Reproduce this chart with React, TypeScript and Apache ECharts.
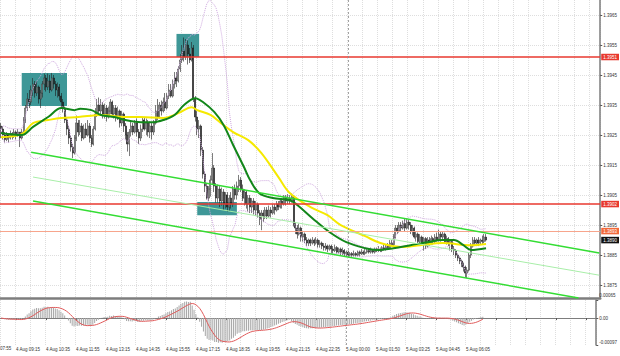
import React, { useEffect, useRef } from 'react';
import * as echarts from 'echarts';

const BASE = 1.38;
const PIP = 0.0001;
const SLOTS = 318;
const DAY_SEP = 184;
const firstOpen = 128;

const closes = [
  127,125,123.5,125,124,125.5,124.5,126,125,126,
  124,126,130,134,137,136,140,142,139,141,
  137,139,142,144,141,143,140,144,142,140,
  141,138,136,134,130,127,124,121,119,124,
  129,126,128,124,127,125,128,124,122,127,
  132,135,133,135,132,134,131,133,136,132,
  134,131,133,129,132,128,125,122,126,128,
  126,129,126,124,127,130,127,129,126,128,
  126,129,133,131,135,133,136,134,138,140,
  138,142,144,143,147,150,153,151,155,152,
  150,154,137,131,127,128,120,112,108,104,
  107,110,114,108,104,107,103,106,102,105,
  101,104,102,107,105,108,110,107,104,106,
  102,104,101,103,100,102,99,97,99,98,
  100,98,100,99,101,100,102,101,103,102,
  104,103,104,103,104.5,95,94,92,94,91,
  92,90,89,90,89,90,89,90,88.5,89,
  88,87.5,88,87,88,87,86.5,87.5,86,87,
  86,86.5,85.5,86,85,85.5,85,85.5,85,86,
  85.5,86,85.5,86,86.5,86,86.5,86,87,86.5,
  87,86.5,87.5,87,88,87.5,89,88.5,91,94,
  93,95,94,95.5,94,96,95,93,94,91,
  92,89.5,91,89,90.5,88,90,89,90.5,89.5,
  91,90,92,91,92,89.5,90.5,89,89.5,87,
  86.5,85,84,83,82,81,79,80,85,88,
  90,89,90,89,90,89.5,91,90,
];

const highs = [
  129,128,126,126,125.5,126.5,126,127,126.5,127,
  126,127,131,135,139,140,141.5,144,143,143,
  141.5,140,143,145.5,145,145.5,145,145.7,145,143,
  142.5,142,139,137,134.5,131,128,125,122,125,
  131.5,130,130,129,128.5,129,130,129,125,128,
  134,137,137.5,137,136,135.5,135,134.5,137,136.5,
  135,135,134.5,133.5,133,132.5,129,126,127,129.5,
  129,130,130.5,127,128.5,131,131,130.5,130,129.5,
  129,130,135,137,136,136.5,137.5,139,139,142,
  142,143.5,146,146,148,152,155,157.5,157,156.5,
  154,156,155,138,133,130,128.5,121,113,109,
  108,111.5,119,115,109,108.5,108,107.5,107,106,
  106,105,106,108,108.5,109.5,111.7,111,108.5,107,
  106.5,105,105,104,104,103,102.5,100,100,100,
  101,101,101.5,101,102,102,103,103,104,104,
  105,105,105.3,105,105.5,105,96,95,95.5,94.5,
  93,92.5,91,90.5,90.5,91,90.5,91,90.5,90,
  89.5,89,89,88.5,88.5,88.5,88,88.5,88,87.5,
  87.5,87.5,87,86.5,86.5,86,86,86.5,86,86.5,
  86.5,87,86.5,87,87,87,87.5,87,87.5,87.5,
  88,87.5,88,88.5,88.5,89,90,90,92,95,
  95,96,96,96.5,97,97.2,96.7,96,95,94.5,
  93,92.5,92,91.5,91,91,91,91,91.5,91,
  92,92.5,93.5,92.7,93,92.5,91.5,91,90,90,
  88,87,85.5,84.5,83.5,82.5,81.5,81,86,89,
  91,91,90.5,91,90.5,91.5,92,92,
];

const lows = [
  124,123.5,122.5,123,122.5,123.5,123.5,124,123.5,124.5,
  121,123.5,125,129,133,134,135,138,137.5,138,
  135.5,134,137.5,140,139.5,140,139,139.5,140.5,138,
  137.5,136.5,134,132.5,129,125,122,119.5,117.3,118.5,
  123,124.5,125,123,123.5,124,124.5,122.5,121,121.5,
  126.5,131,131.5,132,130.5,130.5,129.5,130.5,132,131,
  130.5,129.5,130,127.5,128,126,123.5,119.5,118,124.5,
  125,125.5,124.5,122,123,126,126.5,125,124.5,124,
  123.5,125,128.5,130,130.5,131.5,132.5,133,133.5,137,
  137.5,137.5,140.5,141,142.5,146,149,149.5,150,148.5,
  149,149.5,136,129.5,125,124,118,110.5,106,103.5,
  103,104.5,108.5,106,102.5,102.5,101,101.5,100,100.5,
  99.5,99.7,100.5,101,103.5,103.5,106,106,103,101.5,
  100.5,99.5,99,99,98.5,98,97.5,95,93.3,96,
  97,97,97.5,97.5,98.5,98.5,99.5,100,100.5,100.5,
  101.5,101.5,102,102,102.5,94.5,92,90.5,91.5,89.5,
  89.5,89,88,88,88,88.5,88,88.5,87.5,87.5,
  87,86.5,86.5,86,86.5,85.5,85.5,86,85.5,85.5,
  85,85,84.5,84.5,84.3,84.5,84.3,84.5,84.5,84.5,
  84.5,85,85,85,85.5,85.5,85.5,85.5,85.5,86,
  86,86,86,86.5,86.5,87,87,88,88,90.5,
  92,92.5,93,93.5,93,93.5,93.5,92,91.5,90.5,
  89.5,89,89,88.5,86.5,87,87.5,88,88.5,88.5,
  89,89.5,89.5,89.5,90,89,88.5,88,86.5,86,
  85,84,83,82,81,79.5,77.5,77.3,79.5,84,
  87.5,88,88,88,88.5,88.5,89,89.5,
];

const greenMA = [
  [0,125.7],[11,125],[17,127.7],[25,131],[32,134],[39,133.3],[42,133.8],[48,133.3],
  [53,131.7],[60,131],[66,130],[74,129.3],[81,129.3],[86,130],[92,131.7],[97,135],
  [103,137.3],[107,136],[113,132.7],[118,128.3],[123,121.7],[129,114],[132,110],
  [137,105.5],[144,104],[153,103.3],[157,101.7],[165,97.3],[174,92.7],[183,89.3],
  [193,87.3],[199,86.7],[208,87.3],[217,88.3],[226,89.3],[234,90],[240,90],
  [245,88.3],[249,86.7],[257,87.3],
];

const yellowMA = [
  [0,124.3],[11,125.3],[17,129],[25,130],[32,130.7],[41,131],[53,131.7],[66,131],
  [74,131],[86,130.7],[94,132.3],[101,134.3],[104,133.3],[111,131.7],[116,129.3],
  [123,126],[131,123.3],[138,119],[147,111],[153,105.7],[164,101],[173,98.3],
  [180,95],[193,91.3],[201,89],[212,87.7],[222,88.3],[234,89],[249,88.3],[257,88.7],
];

const tickLabels = [
  '4 Aug 09:15','4 Aug 10:35','4 Aug 11:55','4 Aug 13:15','4 Aug 14:35','4 Aug 15:55',
  '4 Aug 17:15','4 Aug 18:35','4 Aug 19:55','4 Aug 21:15','4 Aug 22:35','5 Aug 00:00',
  '5 Aug 01:50','5 Aug 03:25','5 Aug 04:45','5 Aug 06:05',
];
const firstPartialLabel = '07:55';
const priceTicks = [1.3875,1.3885,1.3895,1.3905,1.3915,1.3925,1.3935,1.3945,1.3955,1.3965];
const macdTicks = [-0.00097, 0, 0.00065];

const redLevels = [1.3951, 1.3902];
const orangeLevel = 1.3893;
const bidPrice = 1.389;

const boxStart = [11, 93, 104];
const boxEnd = [35, 105, 125];
const boxTop = [1.39457, 1.39587, 1.39027];
const boxBottom = [1.39347, 1.3951, 1.38983];

const channelUpper = [[16, 1.39193], [317, 1.38857]];
const channelLower = [[17, 1.3903], [306, 1.38707]];
const channelMid = [[17, 1.3911], [317, 1.38783]];

const FONT = 'Liberation Sans';
const isTick = (i: number) => i >= 8 && (i - 8) % 16 === 0;

export default function App() {
  const ref = useRef<HTMLDivElement>(null);
  useEffect(() => {
    if (!ref.current) return;
    const chart = echarts.init(ref.current, null, { renderer: 'svg' });
    const px = (p: number) => +(BASE + p * PIP).toFixed(6);
    const cats = Array.from({ length: SLOTS }, (_, i) => String(i));
    const opens = [firstOpen, ...closes.slice(0, -1)];
    const candles = closes.map((c, i) => {
      const o = opens[i];
      const h = Math.max(highs[i], o, c);
      const l = Math.min(lows[i], o, c);
      return [px(o), px(c), px(l), px(h)];
    });
    // Bollinger (20, 2)
    const bbU: number[] = [], bbL: number[] = [];
    closes.forEach((_, i) => {
      const s = closes.slice(Math.max(0, i - 19), i + 1);
      const m = s.reduce((a, b) => a + b, 0) / s.length;
      const sd = Math.sqrt(s.reduce((a, b) => a + (b - m) * (b - m), 0) / s.length);
      bbU.push(px(m + 2 * sd));
      bbL.push(px(m - 2 * sd));
    });
    // MACD (12, 26, 9)
    const ema = (n: number) => {
      const a = 2 / (n + 1);
      const out: number[] = [];
      closes.forEach((c, i) => out.push(i === 0 ? c : out[i - 1] + a * (c - out[i - 1])));
      return out;
    };
    const e12 = ema(12), e26 = ema(26);
    const macd = closes.map((_, i) => (e12[i] - e26[i]) * PIP);
    const sig = macd.map((_, i) => {
      const s = macd.slice(Math.max(0, i - 8), i + 1);
      return s.reduce((a, b) => a + b, 0) / s.length;
    });

    const gridLine = { show: true, lineStyle: { color: '#dedede', type: 'dotted' as const, width: 1 } };
    const frame = '#7d7d7d';
    const lvlLabel = (bg: string) => ({
      show: true, position: 'end' as const, distance: 1, formatter: (p: any) => Number(p.value).toFixed(4),
      backgroundColor: bg, color: '#fff', fontSize: 4.5, fontFamily: FONT, padding: [1, 2, 0.5, 2],
    });

    chart.setOption({
      animation: false,
      backgroundColor: '#ffffff',
      grid: [
        { left: 0, right: 19, top: 0, height: 298 },
        { left: 0, right: 19, top: 300, height: 45 },
      ],
      xAxis: [
        {
          type: 'category', gridIndex: 0, data: cats, boundaryGap: true,
          axisLine: { show: true, lineStyle: { color: frame, width: 2.5 } },
          axisTick: { show: false }, axisLabel: { show: false },
          splitLine: { ...gridLine, interval: (i: number) => i % 8 === 0 },
        },
        {
          type: 'category', gridIndex: 1, data: cats, boundaryGap: true,
          axisLine: { show: true, lineStyle: { color: frame, width: 1 } },
          axisTick: { show: true, interval: (i: number) => isTick(i), alignWithLabel: true, length: 2, lineStyle: { color: '#555' } },
          axisLabel: {
            show: true, interval: (i: number) => isTick(i), align: 'left', margin: 2,
            fontSize: 4.5, fontFamily: FONT, color: '#333',
            formatter: (_v: string, i: number) => tickLabels[(i - 8) / 16] ?? '',
          },
          splitLine: { ...gridLine, interval: (i: number) => i % 8 === 0 },
        },
      ],
      yAxis: [
        {
          type: 'value', gridIndex: 0, position: 'right', min: 1.38707, max: 1.397,
          axisLine: { show: true, lineStyle: { color: frame, width: 1.5 } },
          axisTick: { show: true, length: 2, customValues: priceTicks, lineStyle: { color: '#555' } },
          axisLabel: {
            show: true, customValues: priceTicks, margin: 3, fontSize: 4.5, fontFamily: FONT, color: '#333',
            formatter: (v: number) => v.toFixed(4),
          },
          splitLine: gridLine,
        },
        {
          type: 'value', gridIndex: 1, position: 'right', min: -0.000975, max: 0.000655,
          axisLine: { show: true, lineStyle: { color: frame, width: 1.5 } },
          axisTick: { show: true, length: 2, customValues: macdTicks, lineStyle: { color: '#555' } },
          axisLabel: {
            show: true, customValues: macdTicks, margin: 3, fontSize: 4.5, fontFamily: FONT, color: '#333',
            showMinLabel: true, showMaxLabel: true, hideOverlap: false,
            formatter: (v: number) => (v === 0 ? '0.00' : v > 0 ? '{up|' + v.toFixed(5) + '}' : '{dn|' + v.toFixed(5) + '}'),
            rich: {
              up: { fontSize: 4.5, fontFamily: FONT, color: '#333', padding: [0, 0, 9, 0] },
              dn: { fontSize: 4.5, fontFamily: FONT, color: '#333', padding: [0, 0, 4, 0] },
            },
          },
          splitLine: { show: false },
        },
      ],
      graphic: [
        { type: 'text', x: 0, y: 346, style: { text: firstPartialLabel, fontSize: 4.5, fontFamily: FONT, fill: '#333' } },
      ],
      series: [
        {
          type: 'candlestick', xAxisIndex: 0, yAxisIndex: 0, data: candles, barWidth: 1.5,
          itemStyle: { color: '#ffffff', color0: '#1a1a1a', borderColor: '#262626', borderColor0: '#1a1a1a', borderWidth: 0.6 },
          markArea: {
            silent: true,
            itemStyle: { color: '#3e9797', opacity: 1 },
            data: boxStart.map((s, k) => [
              { xAxis: s, yAxis: boxTop[k] },
              { xAxis: boxEnd[k], yAxis: boxBottom[k] },
            ]),
          },
          markLine: {
            silent: true, symbol: 'none', animation: false, precision: 5,
            data: [
              ...redLevels.map((v) => ({ yAxis: v, lineStyle: { color: '#e8392f', width: 1.6, type: 'solid' }, label: lvlLabel('#e8392f') })),
              { yAxis: orangeLevel, lineStyle: { color: '#f7a58c', width: 1, type: 'solid' }, label: lvlLabel('#f26a3c') },
              { yAxis: bidPrice, lineStyle: { color: 'rgba(0,0,0,0)', width: 0.1, type: 'solid' }, label: lvlLabel('#111111') },
              { xAxis: DAY_SEP, lineStyle: { color: '#8a8a8a', width: 0.8, type: [2, 2] }, label: { show: false } },
              [
                { coord: channelUpper[0], lineStyle: { color: '#33dd33', width: 1.5, type: 'solid' }, label: { show: false } },
                { coord: channelUpper[1] },
              ],
              [
                { coord: channelLower[0], lineStyle: { color: '#33dd33', width: 1.5, type: 'solid' }, label: { show: false } },
                { coord: channelLower[1] },
              ],
              [
                { coord: channelMid[0], lineStyle: { color: '#a8eea8', width: 1, type: 'solid' }, label: { show: false } },
                { coord: channelMid[1] },
              ],
            ],
          },
        },
        {
          type: 'line', xAxisIndex: 0, yAxisIndex: 0, data: bbU, symbol: 'none', silent: true,
          lineStyle: { color: '#cfa8e0', width: 1, type: 'dotted' },
        },
        {
          type: 'line', xAxisIndex: 0, yAxisIndex: 0, data: bbL, symbol: 'none', silent: true,
          lineStyle: { color: '#cfa8e0', width: 1, type: 'dotted' },
        },
        {
          type: 'line', xAxisIndex: 0, yAxisIndex: 0, data: yellowMA.map(([i, p]) => [i, px(p)]),
          symbol: 'none', smooth: 0.35, silent: true, lineStyle: { color: '#f5e900', width: 2 },
        },
        {
          type: 'line', xAxisIndex: 0, yAxisIndex: 0, data: greenMA.map(([i, p]) => [i, px(p)]),
          symbol: 'none', smooth: 0.35, silent: true, lineStyle: { color: '#12861a', width: 2 },
        },
        {
          type: 'bar', xAxisIndex: 1, yAxisIndex: 1, data: macd, barWidth: 1, silent: true,
          itemStyle: { color: '#a6a6a6' },
          markLine: {
            silent: true, symbol: 'none', label: { show: false },
            data: [{ xAxis: DAY_SEP, lineStyle: { color: '#8a8a8a', width: 0.8, type: [2, 2] } }],
          },
        },
        {
          type: 'line', xAxisIndex: 1, yAxisIndex: 1, data: sig, symbol: 'none', silent: true,
          lineStyle: { color: '#e05a5a', width: 1 },
        },
      ],
    });
    return () => chart.dispose();
  }, []);
  return <div ref={ref} style={{ position: 'fixed', left: 0, top: 0, width: 620, height: 356, background: '#fff' }} />;
}
